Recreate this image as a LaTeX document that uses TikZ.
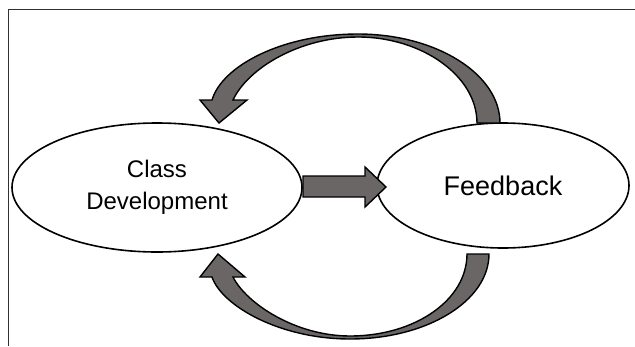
\documentclass[tikz,border=0pt]{standalone}
\usepackage{fontspec}
\setmainfont{Liberation Sans}
\usetikzlibrary{shapes.geometric}
\definecolor{arrowgray}{RGB}{106,102,102}
\definecolor{framegray}{RGB}{50,50,50}
\tikzset{
  bubble/.style={ellipse, draw=black, line width=1.6pt, fill=white, inner sep=0pt, align=center},
  blockarrow/.style={draw=black, line width=1.4pt, fill=arrowgray, line join=miter},
  frameline/.style={draw=framegray, line width=1.1pt}
}
\begin{document}
\begin{tikzpicture}[x=1pt,y=-1pt]
\useasboundingbox (0,0) rectangle (635,346);
% frame (top and left only)
\coordinate (fa) at (8.7,346);
\coordinate (fb) at (8.7,9.3);
\coordinate (fc) at (635,9.3);
\draw[frameline] (fa) -- (fb) -- (fc);

% nodes
\node[bubble, minimum width=290pt, minimum height=129pt,
      font=\fontsize{24}{32}\selectfont] (cd) at (157,187.5) {Class\\Development};
\node[bubble, minimum width=252pt, minimum height=125pt,
      font=\fontsize{27}{32}\selectfont] (fbk) at (503,185.5) {Feedback};

% middle straight block arrow
\draw[blockarrow] (303,176) -- (365,176) -- (365,167) -- (386,187)
  -- (365,207) -- (365,197) -- (303,197) -- cycle;

% upper curved arrow (Feedback -> Class Development)
\draw[blockarrow]
  (500,123) .. controls (500,74) and (436,34) .. (358,34)
  .. controls (282,34) and (222,66) .. (212,100)
  -- (200,100) -- (219,123) -- (247,100) -- (233,100)
  .. controls (248,68) and (300,37) .. (358,37)
  .. controls (422,37) and (477,76) .. (477,123) -- cycle;

% lower curved arrow (Feedback -> Class Development)
\draw[blockarrow]
  (489,254) .. controls (489,301) and (427,339) .. (350,339)
  .. controls (280,339) and (222,306) .. (212,277)
  -- (200,277) -- (218,254) -- (245,277) -- (233,277)
  .. controls (246,303) and (295,336) .. (350,336)
  .. controls (415,336) and (467,300) .. (467,254) -- cycle;
\end{tikzpicture}
\end{document}
